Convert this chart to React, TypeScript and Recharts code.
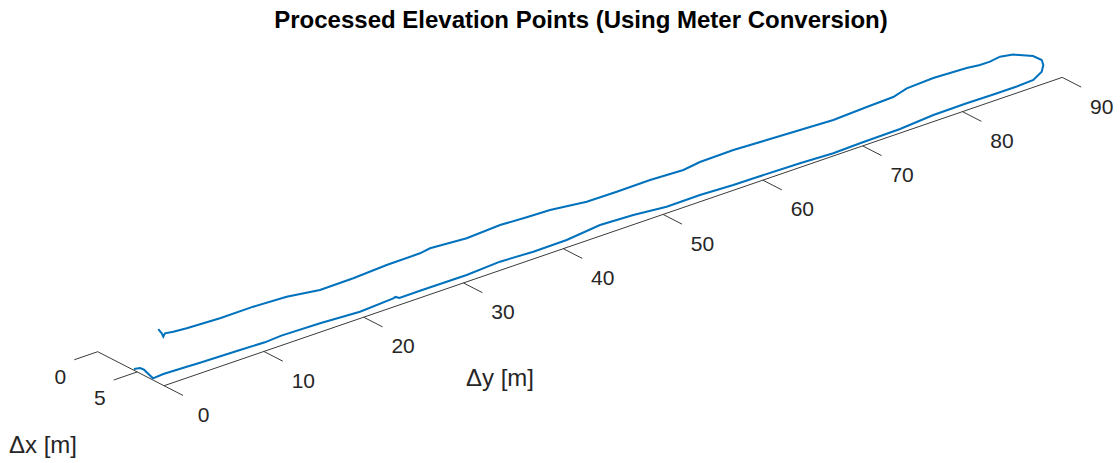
import { ComposedChart, Line, Scatter, XAxis, YAxis, ReferenceLine } from "recharts";

const title = "Processed Elevation Points (Using Meter Conversion)";
const deltaYTicks = [0, 10, 20, 30, 40, 50, 60, 70, 80, 90];
const deltaXTicks = [0, 5];
const deltaXMax = 8.4;
const deltaYMax = 90;

// walked track, out along the far side and back (Δx, Δy in metres)
const trackDx = [
  4.40, 4.56, 5.01, 6.74, 6.63, 6.74, 6.82, 6.97, 7.10, 6.95,
  7.09, 7.40, 7.11, 7.02, 7.38, 7.34, 7.39, 7.11, 7.33, 7.29,
  6.76, 6.97, 7.44, 7.40, 7.61, 7.66, 7.79, 8.00, 7.88, 7.80,
  7.42, 7.38, 7.43, 7.44, 7.32, 6.52, 5.61, 4.79, 3.75, 2.52,
  2.18, 2.41, 2.39, 2.16, 1.94, 2.12, 2.72, 2.85, 3.08, 2.87,
  2.66, 2.44, 2.52, 2.86, 2.65, 2.69, 2.64, 2.01, 1.90, 1.69,
  1.96, 1.58, 1.81, 1.85, 2.12, 2.16, 1.46, 1.24, 1.27, 1.06,
  0.88, 0.70, 1.11, 0.53, -0.28,
];
const trackDy = [
  0.15, 0.63, 0.67, 0.20, 1.33, 3.59, 4.85, 8.74, 11.13, 12.90,
  16.67, 20.42, 23.99, 24.28, 24.39, 26.48, 31.12, 34.68, 37.85, 41.22,
  44.98, 48.15, 51.12, 54.49, 57.66, 59.97, 64.20, 67.37, 70.15, 74.22,
  77.86, 81.23, 83.86, 86.20, 87.96, 89.43, 90.31, 90.80, 90.75, 89.72,
  88.69, 87.50, 86.51, 85.36, 82.19, 79.39, 77.56, 74.80, 71.27, 68.10,
  64.93, 61.76, 58.35, 56.42, 53.25, 49.88, 46.91, 43.73, 41.48, 38.98,
  35.42, 32.05, 30.86, 27.49, 23.93, 20.56, 17.78, 14.61, 11.25, 8.08,
  6.88, 6.19, 5.69, 6.00, 6.29,
];

// oblique view of the ground plane: units per metre on screen
const proj = (dx: number, dy: number) => ({
  u: 7.9 * dx + 9.98 * dy,
  v: -4.05 * dx + 3.426 * dy,
});

const track = trackDx.map((dx, i) => proj(dx, trackDy[i]));
const tickLenX = 2.4;
const tickLenY = 2.35;

const yTickLabels = deltaYTicks.map((t) => ({ ...proj(deltaXMax + tickLenX, t), label: String(t), ox: 20.5, oy: 19 }));
const xTickLabels = deltaXTicks.map((t) => ({ ...proj(t, -tickLenY), label: String(t), ox: -14, oy: 17 }));

const font = "'Liberation Sans', Arial, Helvetica, sans-serif";
const axisColor = "#3a3a3a";

const seg = (a: { u: number; v: number }, b: { u: number; v: number }) => [
  { x: a.u, y: a.v },
  { x: b.u, y: b.v },
];

const TickText = (props: any) => {
  const { cx, cy, payload } = props;
  return (
    <text
      x={cx + payload.ox}
      y={cy + payload.oy}
      textAnchor="middle"
      dominantBaseline="central"
      fontSize={21}
      fontFamily={font}
      fill="#262626"
    >
      {payload.label}
    </text>
  );
};

export default function App() {
  return (
    <div style={{ position: "relative", width: 1120, height: 463, background: "#fff" }}>
      <style>{`body{margin:0}`}</style>
      <div
        style={{
          position: "absolute",
          left: 0,
          width: 1162,
          top: 6,
          textAlign: "center",
          fontFamily: font,
          fontWeight: "bold",
          fontSize: 24,
          color: "#000",
        }}
      >
        {title}
      </div>
      <div style={{ position: "absolute", left: 466, top: 364, fontFamily: font, fontSize: 24, color: "#262626" }}>
        Δy [m]
      </div>
      <div style={{ position: "absolute", left: 9, top: 431, fontFamily: font, fontSize: 24, color: "#262626" }}>
        Δx [m]
      </div>
      <ComposedChart width={1120} height={463} margin={{ top: 0, right: 0, bottom: 0, left: 0 }}>
        <XAxis type="number" dataKey="u" domain={[-97.7, 1022.3]} allowDataOverflow hide />
        <YAxis type="number" dataKey="v" domain={[-111.3, 351.7]} allowDataOverflow hide />

        {/* Δx axis and its ticks */}
        <ReferenceLine segment={seg(proj(0, 0), proj(deltaXMax, 0))} stroke={axisColor} strokeWidth={1} ifOverflow="visible" />
        {deltaXTicks.map((t) => (
          <ReferenceLine key={"xt" + t} segment={seg(proj(t, 0), proj(t, -tickLenY))} stroke={axisColor} strokeWidth={1} ifOverflow="visible" />
        ))}

        {/* Δy axis and its ticks */}
        <ReferenceLine segment={seg(proj(deltaXMax, 0), proj(deltaXMax, deltaYMax))} stroke={axisColor} strokeWidth={1} ifOverflow="visible" />
        {deltaYTicks.map((t) => (
          <ReferenceLine key={"yt" + t} segment={seg(proj(deltaXMax, t), proj(deltaXMax + tickLenX, t))} stroke={axisColor} strokeWidth={1} ifOverflow="visible" />
        ))}

        <Line
          data={track}
          dataKey="v"
          type="linear"
          stroke="#0072BD"
          strokeWidth={2}
          dot={false}
          isAnimationActive={false}
        />
        <Scatter data={yTickLabels} dataKey="v" shape={TickText} isAnimationActive={false} />
        <Scatter data={xTickLabels} dataKey="v" shape={TickText} isAnimationActive={false} />
      </ComposedChart>
    </div>
  );
}
